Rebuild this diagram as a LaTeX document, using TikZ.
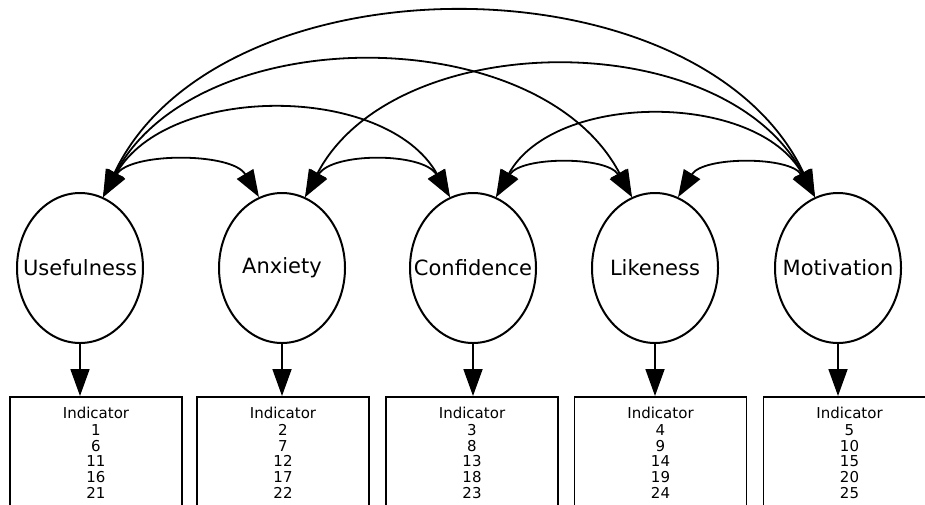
\documentclass[tikz,border=0pt]{standalone}
\usepackage{fontspec}
\setmainfont{DejaVu Sans}
\usetikzlibrary{arrows.meta,shapes.geometric}
\begin{document}
\begin{tikzpicture}[x=1pt,y=-1pt,
  lat/.style={ellipse,draw,line width=2pt,minimum width=126pt,minimum height=150pt,inner sep=0pt,font=\fontsize{21}{25}\selectfont},
  ind/.style={rectangle,draw,line width=1.5pt,anchor=north,minimum width=172pt,align=center,inner xsep=0pt,inner ysep=10pt,font=\fontsize{15}{15.6}\selectfont},
  cov/.style={line width=1.8pt,{Triangle[length=27pt,width=19pt]}-{Triangle[length=27pt,width=19pt]}},
  load/.style={line width=1.8pt,-{Triangle[length=27pt,width=19pt]}}]
\useasboundingbox (0,0) rectangle (925,504);
\clip (0,0) rectangle (925,504);
\node[lat] (U) at (80,268) {\makebox[0pt]{Usefulness}};
\node[lat] (A) at (282,268) {\makebox[0pt]{Anxiety}};
\node[lat] (C) at (473,268) {\makebox[0pt]{Confidence}};
\node[lat] (L) at (655,268) {\makebox[0pt]{Likeness}};
\node[lat] (M) at (838,268) {\makebox[0pt]{Motivation}};
\node[ind] (B1) at (96,396) {Indicator\\[2pt]1\\6\\11\\16\\21};
\node[ind] (B2) at (283,396) {Indicator\\[2pt]2\\7\\12\\17\\22};
\node[ind] (B3) at (472,396) {Indicator\\[2pt]3\\8\\13\\18\\23};
\node[ind] (B4) at (660.5,396) {Indicator\\[2pt]4\\9\\14\\19\\24};
\node[ind] (B5) at (849.5,396) {Indicator\\[2pt]5\\10\\15\\20\\25};
\draw[load] (U.south) -- (U.south |- B1.north);
\draw[load] (A.south) -- (A.south |- B2.north);
\draw[load] (C.south) -- (C.south |- B3.north);
\draw[load] (L.south) -- (L.south |- B4.north);
\draw[load] (M.south) -- (M.south |- B5.north);
\draw[cov] (U.72) .. controls +(115,-243) and +(-115,-243) .. (M.108);
\draw[cov] (U.72) .. controls +(93,-178) and +(-93,-178) .. (L.108);
\draw[cov] (A.72) .. controls +(90,-172) and +(-90,-172) .. (M.108);
\draw[cov] (U.72) .. controls +(64,-114) and +(-64,-114) .. (C.108);
\draw[cov] (C.72) .. controls +(58,-106) and +(-58,-106) .. (M.108);
\draw[cov] (U.72) .. controls +(27,-45) and +(-27,-45) .. (A.108);
\draw[cov] (A.72) .. controls +(27,-45) and +(-27,-45) .. (C.108);
\draw[cov] (C.72) .. controls +(25,-41) and +(-25,-41) .. (L.108);
\draw[cov] (L.72) .. controls +(25,-41) and +(-25,-41) .. (M.108);
\end{tikzpicture}
\end{document}
